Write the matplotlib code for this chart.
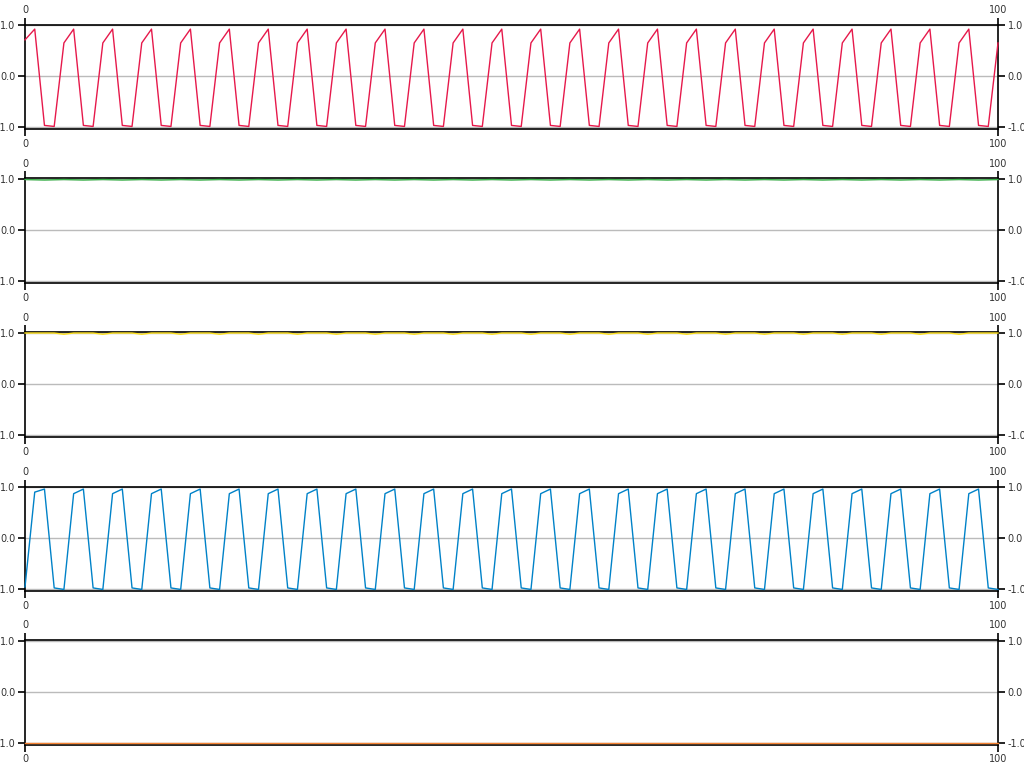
import matplotlib
matplotlib.use("Agg")
import matplotlib.pyplot as plt

plt.rcParams['font.family'] = ['DejaVu Sans']
plt.rcParams['axes.unicode_minus'] = False

x_vals = list(range(0, 101))

red_vals = [0.71,
    0.92, -0.96, -0.98, 0.65, 0.92, -0.96, -0.98, 0.65, 0.92, -0.96, -0.98, 0.65, 0.92, -0.96, -0.98, 0.65,
    0.92, -0.96, -0.98, 0.65, 0.92, -0.96, -0.98, 0.65, 0.92, -0.96, -0.98, 0.65, 0.92, -0.96, -0.98, 0.65,
    0.92, -0.96, -0.98, 0.65, 0.92, -0.96, -0.98, 0.65, 0.92, -0.96, -0.98, 0.65, 0.92, -0.96, -0.98, 0.65,
    0.92, -0.96, -0.98, 0.65, 0.92, -0.96, -0.98, 0.65, 0.92, -0.96, -0.98, 0.65, 0.92, -0.96, -0.98, 0.65,
    0.92, -0.96, -0.98, 0.65, 0.92, -0.96, -0.98, 0.65, 0.92, -0.96, -0.98, 0.65, 0.92, -0.96, -0.98, 0.65,
    0.92, -0.96, -0.98, 0.65, 0.92, -0.96, -0.98, 0.65, 0.92, -0.96, -0.98, 0.65, 0.92, -0.96, -0.98, 0.65,
    0.92, -0.96, -0.98, 0.65]

green_vals = [0.99,
    0.985, 0.98, 0.985, 0.99, 0.985, 0.98, 0.985, 0.99, 0.985, 0.98, 0.985, 0.99, 0.985, 0.98, 0.985, 0.99,
    0.985, 0.98, 0.985, 0.99, 0.985, 0.98, 0.985, 0.99, 0.985, 0.98, 0.985, 0.99, 0.985, 0.98, 0.985, 0.99,
    0.985, 0.98, 0.985, 0.99, 0.985, 0.98, 0.985, 0.99, 0.985, 0.98, 0.985, 0.99, 0.985, 0.98, 0.985, 0.99,
    0.985, 0.98, 0.985, 0.99, 0.985, 0.98, 0.985, 0.99, 0.985, 0.98, 0.985, 0.99, 0.985, 0.98, 0.985, 0.99,
    0.985, 0.98, 0.985, 0.99, 0.985, 0.98, 0.985, 0.99, 0.985, 0.98, 0.985, 0.99, 0.985, 0.98, 0.985, 0.99,
    0.985, 0.98, 0.985, 0.99, 0.985, 0.98, 0.985, 0.99, 0.985, 0.98, 0.985, 0.99, 0.985, 0.98, 0.985, 0.99,
    0.985, 0.98, 0.985, 0.99]

yellow_vals = [1.0,
    1.0, 1.0, 1.0, 0.975, 1.0, 1.0, 1.0, 0.975, 1.0, 1.0, 1.0, 0.975, 1.0, 1.0, 1.0, 0.975,
    1.0, 1.0, 1.0, 0.975, 1.0, 1.0, 1.0, 0.975, 1.0, 1.0, 1.0, 0.975, 1.0, 1.0, 1.0, 0.975,
    1.0, 1.0, 1.0, 0.975, 1.0, 1.0, 1.0, 0.975, 1.0, 1.0, 1.0, 0.975, 1.0, 1.0, 1.0, 0.975,
    1.0, 1.0, 1.0, 0.975, 1.0, 1.0, 1.0, 0.975, 1.0, 1.0, 1.0, 0.975, 1.0, 1.0, 1.0, 0.975,
    1.0, 1.0, 1.0, 0.975, 1.0, 1.0, 1.0, 0.975, 1.0, 1.0, 1.0, 0.975, 1.0, 1.0, 1.0, 0.975,
    1.0, 1.0, 1.0, 0.975, 1.0, 1.0, 1.0, 0.975, 1.0, 1.0, 1.0, 0.975, 1.0, 1.0, 1.0, 0.975,
    1.0, 1.0, 1.0, 1.0]

blue_vals = [-0.95,
    0.90, 0.96, -0.97, -1.0, 0.87, 0.96, -0.97, -1.0, 0.87, 0.96, -0.97, -1.0, 0.87, 0.96, -0.97, -1.0,
    0.87, 0.96, -0.97, -1.0, 0.87, 0.96, -0.97, -1.0, 0.87, 0.96, -0.97, -1.0, 0.87, 0.96, -0.97, -1.0,
    0.87, 0.96, -0.97, -1.0, 0.87, 0.96, -0.97, -1.0, 0.87, 0.96, -0.97, -1.0, 0.87, 0.96, -0.97, -1.0,
    0.87, 0.96, -0.97, -1.0, 0.87, 0.96, -0.97, -1.0, 0.87, 0.96, -0.97, -1.0, 0.87, 0.96, -0.97, -1.0,
    0.87, 0.96, -0.97, -1.0, 0.87, 0.96, -0.97, -1.0, 0.87, 0.96, -0.97, -1.0, 0.87, 0.96, -0.97, -1.0,
    0.87, 0.96, -0.97, -1.0, 0.87, 0.96, -0.97, -1.0, 0.87, 0.96, -0.97, -1.0, 0.87, 0.96, -0.97, -1.0,
    0.87, 0.96, -0.97, -1.0]

orange_vals = [-1.0,
    -1.0, -1.0, -1.0, -1.0, -1.0, -1.0, -1.0, -1.0, -1.0, -1.0, -1.0, -1.0, -1.0, -1.0, -1.0, -1.0,
    -1.0, -1.0, -1.0, -1.0, -1.0, -1.0, -1.0, -1.0, -1.0, -1.0, -1.0, -1.0, -1.0, -1.0, -1.0, -1.0,
    -1.0, -1.0, -1.0, -1.0, -1.0, -1.0, -1.0, -1.0, -1.0, -1.0, -1.0, -1.0, -1.0, -1.0, -1.0, -1.0,
    -1.0, -1.0, -1.0, -1.0, -1.0, -1.0, -1.0, -1.0, -1.0, -1.0, -1.0, -1.0, -1.0, -1.0, -1.0, -1.0,
    -1.0, -1.0, -1.0, -1.0, -1.0, -1.0, -1.0, -1.0, -1.0, -1.0, -1.0, -1.0, -1.0, -1.0, -1.0, -1.0,
    -1.0, -1.0, -1.0, -1.0, -1.0, -1.0, -1.0, -1.0, -1.0, -1.0, -1.0, -1.0, -1.0, -1.0, -1.0, -1.0,
    -1.0, -1.0, -1.0, -1.0]

series = [red_vals, green_vals, yellow_vals, blue_vals, orange_vals]
colors = ['#e6194b', '#3cb44b', '#ffe119', '#0082c8', '#f58231']

x_ticks = [0, 100]
y_ticks = [-1.0, 0.0, 1.0]
y_ticklabels = ['-1.0', '0.0', '1.0']

W, H = 1024, 768
fig = plt.figure(figsize=(W / 100, H / 100), dpi=100)

left_px, right_px = 25, 998
tops_px = [24.5, 178.5, 332.5, 486.5, 640]
h_px = 104.5

for i, (vals, col) in enumerate(zip(series, colors)):
    top = tops_px[i]
    ax = fig.add_axes([left_px / W, 1 - (top + h_px) / H, (right_px - left_px) / W, h_px / H])
    ax.plot(x_vals, vals, color=col, lw=1.0, clip_on=False, zorder=3)
    ax.set_xlim(0, 100)
    ax.set_ylim(-1.03, 1.01)
    ax.set_xticks(x_ticks)
    ax.set_xticklabels([str(t) for t in x_ticks])
    ax.set_yticks(y_ticks)
    ax.set_yticklabels(y_ticklabels)
    ax.grid(axis='y', color='#bbbbbb', lw=1.0)
    ax.set_axisbelow(True)
    for s in ax.spines.values():
        s.set_color('black')
        s.set_linewidth(1.2)
    ax.tick_params(axis='both', direction='out', length=5, width=1.2, color='black',
                   top=True, right=True, labeltop=True, labelright=True,
                   labelsize=7, labelcolor='#333333', pad=2)

fig.savefig('out.png', dpi=100, facecolor='white')
